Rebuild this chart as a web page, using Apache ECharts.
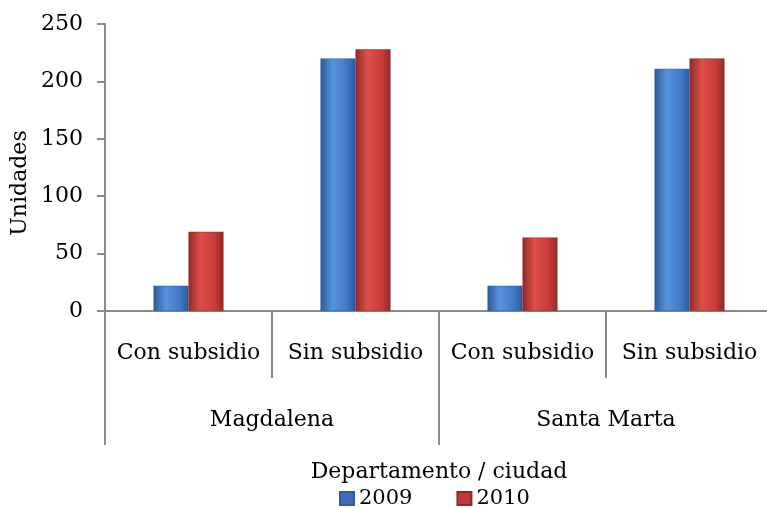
<!DOCTYPE html>
<html>
<head>
<meta charset="utf-8">
<script src="https://cdn.jsdelivr.net/npm/echarts@6/dist/echarts.min.js"></script>
<style>
  html, body { margin: 0; padding: 0; background: #fff; }
  #chart { width: 767px; height: 508px; }
</style>
</head>
<body>
<div id="chart"></div>
<script>
// data
const subCategories = ['Con subsidio', 'Sin subsidio', 'Con subsidio', 'Sin subsidio'];
const groups = ['Magdalena', 'Santa Marta'];
const values2009 = [22, 220, 22, 211];
const values2010 = [69, 228, 64, 220];
const yTicks = { min: 0, max: 250, step: 50 };

const FONT = 'DejaVu Serif';
const AXIS_GREY = '#8a8a8a';
const FS = 22;

// fake the cylinder look with a horizontal gradient
function barFill(dark, mid, light) {
    return new echarts.graphic.LinearGradient(0, 0, 1, 0, [
        { offset: 0, color: dark },
        { offset: 0.35, color: light },
        { offset: 0.75, color: mid },
        { offset: 1, color: dark }
    ]);
}

const chart = echarts.init(document.getElementById('chart'));

const option = {
    animation: false,
    textStyle: { fontFamily: FONT, color: '#000' },
    // plot runs a little past the right edge in the reference
    grid: { left: 105, top: 24, width: 668, bottom: 197, outerBoundsMode: 'none' },
    legend: {
        bottom: -6,
        left: 334,
        itemWidth: 14,
        itemHeight: 13,
        itemGap: 44,
        textStyle: { fontFamily: FONT, fontSize: 21, color: '#000' },
        data: [
            { name: '2009', icon: 'rect', itemStyle: { color: '#3a6fb5' } },
            { name: '2010', icon: 'rect', itemStyle: { color: '#c03a37' } }
        ]
    },
    // y axis title sits a bit below the axis middle in the reference
    graphic: [{
        type: 'text',
        x: 20,
        y: 183,
        rotation: Math.PI / 2,
        style: {
            text: 'Unidades',
            fontFamily: FONT,
            fontSize: FS,
            fill: '#000',
            align: 'center',
            verticalAlign: 'middle'
        }
    }],
    xAxis: [
        {
            type: 'category',
            data: subCategories,
            axisLine: { lineStyle: { color: AXIS_GREY, width: 2 } },
            axisTick: { show: true, length: 67, interval: 0, lineStyle: { color: AXIS_GREY, width: 2 } },
            axisLabel: { interval: 0, margin: 31, fontSize: FS, color: '#000', fontFamily: FONT }
        },
        {
            type: 'category',
            data: groups,
            position: 'bottom',
            axisLine: { show: false },
            axisTick: { show: true, length: 134, interval: 0, lineStyle: { color: AXIS_GREY, width: 2 } },
            axisLabel: { interval: 0, margin: 98, fontSize: FS, color: '#000', fontFamily: FONT },
            name: 'Departamento / ciudad',
            nameLocation: 'middle',
            nameGap: 150,
            nameTextStyle: { fontSize: FS, color: '#000', fontFamily: FONT }
        }
    ],
    yAxis: {
        type: 'value',
        min: yTicks.min,
        max: yTicks.max,
        interval: yTicks.step,
        splitLine: { show: false },
        axisLine: { show: true, lineStyle: { color: AXIS_GREY, width: 2 } },
        axisTick: { show: true, length: 8, lineStyle: { color: AXIS_GREY, width: 2 } },
        axisLabel: { margin: 22, fontSize: FS, color: '#000', fontFamily: FONT }
    },
    series: [
        {
            name: '2009',
            type: 'bar',
            data: values2009,
            barWidth: 35,
            barGap: '0%',
            itemStyle: {
                color: barFill('#2c5a9a', '#4079c6', '#5793de'),
                borderColor: '#2f5d9c',
                borderWidth: 0.5
            }
        },
        {
            name: '2010',
            type: 'bar',
            data: values2010,
            barWidth: 35,
            barGap: '0%',
            itemStyle: {
                color: barFill('#8f2a28', '#c83b38', '#df4f4b'),
                borderColor: '#8f2a28',
                borderWidth: 0.5
            }
        }
    ]
};

chart.setOption(option);
</script>
</body>
</html>
